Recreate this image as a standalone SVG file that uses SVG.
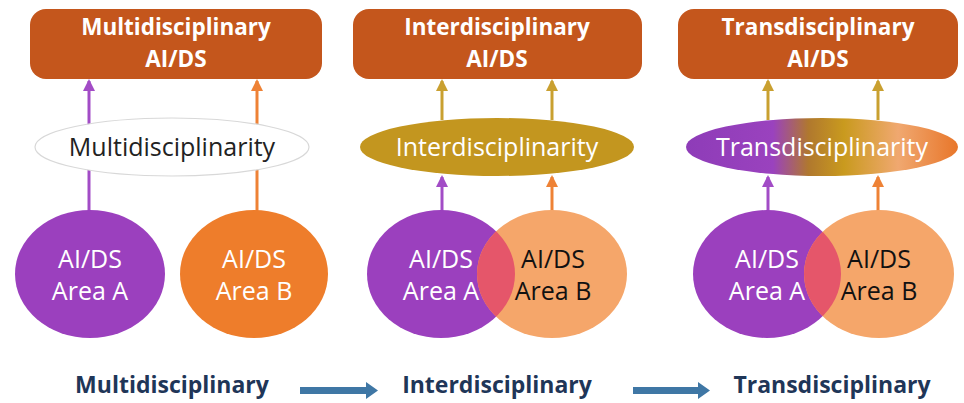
<svg xmlns="http://www.w3.org/2000/svg" width="964" height="403" viewBox="0 0 964 403">
<style>
.box{fill:#C4561C}
.title{font-family:"Open Sans","Liberation Sans",sans-serif;font-weight:bold;font-size:22.5px;fill:#fff;text-anchor:middle}
.etext{font-family:"Open Sans","Liberation Sans",sans-serif;font-size:25px;text-anchor:middle}
.ctext{font-family:"Open Sans","Liberation Sans",sans-serif;font-size:25px;text-anchor:middle}
.bottom{font-family:"Open Sans","Liberation Sans",sans-serif;font-weight:bold;font-size:23px;fill:#1F3658;text-anchor:middle}
.lp{stroke:#A24CC6;stroke-width:3;fill:none}
.lo{stroke:#EE8236;stroke-width:3;fill:none}
.lg{stroke:#C9A030;stroke-width:3;fill:none}
</style>
<defs>
<marker id="ap" markerWidth="12" markerHeight="12" refX="10" refY="6" orient="auto" markerUnits="userSpaceOnUse"><path d="M0,0 L12,6 L0,12 z" fill="#A24CC6"/></marker>
<marker id="ao" markerWidth="12" markerHeight="12" refX="10" refY="6" orient="auto" markerUnits="userSpaceOnUse"><path d="M0,0 L12,6 L0,12 z" fill="#EE8236"/></marker>
<marker id="ag" markerWidth="12" markerHeight="12" refX="10" refY="6" orient="auto" markerUnits="userSpaceOnUse"><path d="M0,0 L12,6 L0,12 z" fill="#C9A030"/></marker>
<linearGradient id="tg" x1="0" y1="0" x2="1" y2="0">
<stop offset="0" stop-color="#8E3CB8"/>
<stop offset="0.32" stop-color="#9A42BE"/>
<stop offset="0.45" stop-color="#B0782E"/>
<stop offset="0.58" stop-color="#C99A1E"/>
<stop offset="0.78" stop-color="#F0A870"/>
<stop offset="1" stop-color="#E8762A"/>
</linearGradient>
<clipPath id="c2"><ellipse cx="441" cy="274" rx="74" ry="64"/></clipPath>
<clipPath id="c3"><ellipse cx="767" cy="274" rx="74" ry="64"/></clipPath>
</defs>

<g id="connectors">
<line class="lp" x1="89" y1="212" x2="89" y2="81" marker-end="url(#ap)"/>
<line class="lo" x1="257" y1="212" x2="257" y2="81" marker-end="url(#ao)"/>
<line class="lg" x1="442" y1="120" x2="442" y2="81" marker-end="url(#ag)"/>
<line class="lg" x1="552" y1="120" x2="552" y2="81" marker-end="url(#ag)"/>
<line class="lp" x1="442" y1="212" x2="442" y2="177" marker-end="url(#ap)"/>
<line class="lo" x1="552" y1="212" x2="552" y2="177" marker-end="url(#ao)"/>
<line class="lg" x1="768" y1="120" x2="768" y2="81" marker-end="url(#ag)"/>
<line class="lg" x1="878" y1="120" x2="878" y2="81" marker-end="url(#ag)"/>
<line class="lp" x1="768" y1="212" x2="768" y2="177" marker-end="url(#ap)"/>
<line class="lo" x1="878" y1="212" x2="878" y2="177" marker-end="url(#ao)"/>
<g fill="#3F77A5">
<path d="M300,387 L366,387 L366,382 L378,390.5 L366,399 L366,394 L300,394 z"/>
<path d="M633,387 L698,387 L698,382 L710,390.5 L698,399 L698,394 L633,394 z"/>
</g>
</g>

<g id="multi-box"><rect class="box" x="30" y="9" width="292" height="70" rx="16"/>
<text class="title" x="176" y="35">Multidisciplinary</text><text class="title" x="176" y="67">AI/DS</text></g>
<g id="inter-box"><rect class="box" x="353" y="9" width="289" height="70" rx="16"/>
<text class="title" x="497" y="35">Interdisciplinary</text><text class="title" x="497" y="67">AI/DS</text></g>
<g id="trans-box"><rect class="box" x="678" y="9" width="280" height="70" rx="16"/>
<text class="title" x="818" y="35">Transdisciplinary</text><text class="title" x="818" y="67">AI/DS</text></g>

<g id="multi-ellipse"><ellipse cx="172" cy="147" rx="137" ry="29" fill="#fff" stroke="#D8D8D8" stroke-width="1.2"/>
<text class="etext" x="172" y="156" fill="#222">Multidisciplinarity</text></g>
<g id="inter-ellipse"><ellipse cx="497" cy="147" rx="137" ry="29" fill="#C3961F"/>
<text class="etext" x="497" y="156" fill="#fff">Interdisciplinarity</text></g>
<g id="trans-ellipse"><ellipse cx="822" cy="147" rx="136" ry="29" fill="url(#tg)"/>
<text class="etext" x="822" y="156" fill="#fff">Transdisciplinarity</text></g>

<g id="multi-areaA"><ellipse cx="90" cy="274" rx="75" ry="64" fill="#9B40BE"/>
<text class="ctext" x="90" y="268" fill="#fff">AI/DS</text><text class="ctext" x="90" y="300" fill="#fff">Area A</text></g>
<g id="multi-areaB"><ellipse cx="254" cy="274" rx="74" ry="64" fill="#EE7D2B"/>
<text class="ctext" x="254" y="268" fill="#fff">AI/DS</text><text class="ctext" x="254" y="300" fill="#fff">Area B</text></g>

<g id="inter-areaA"><ellipse cx="441" cy="274" rx="74" ry="64" fill="#9B40BE"/>
<text class="ctext" x="441" y="268" fill="#fff">AI/DS</text><text class="ctext" x="441" y="300" fill="#fff">Area A</text></g>
<g id="inter-areaB"><ellipse cx="552" cy="274" rx="75" ry="64" fill="#F5A66A"/>
<ellipse cx="552" cy="274" rx="75" ry="64" fill="#E5566A" clip-path="url(#c2)"/>
<text class="ctext" x="553" y="268" fill="#111">AI/DS</text><text class="ctext" x="553" y="300" fill="#111">Area B</text></g>

<g id="trans-areaA"><ellipse cx="767" cy="274" rx="74" ry="64" fill="#9B40BE"/>
<text class="ctext" x="767" y="268" fill="#fff">AI/DS</text><text class="ctext" x="767" y="300" fill="#fff">Area A</text></g>
<g id="trans-areaB"><ellipse cx="879" cy="274" rx="75" ry="64" fill="#F5A66A"/>
<ellipse cx="879" cy="274" rx="75" ry="64" fill="#E5566A" clip-path="url(#c3)"/>
<text class="ctext" x="879" y="268" fill="#111">AI/DS</text><text class="ctext" x="879" y="300" fill="#111">Area B</text></g>

<g id="labels">
<text class="bottom" x="172" y="393">Multidisciplinary</text>
<text class="bottom" x="497" y="393">Interdisciplinary</text>
<text class="bottom" x="832" y="393">Transdisciplinary</text>
</g>
</svg>
